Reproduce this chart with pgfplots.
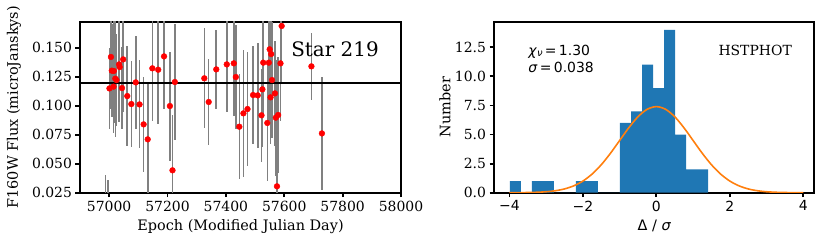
\documentclass[border=0pt]{standalone}
\usepackage{pgfplots}
\pgfplotsset{compat=1.18}
\usepackage{pgfplotstable}
\usepackage{fontspec}
\setmainfont{DejaVu Serif}
\newfontfamily\sansf{DejaVu Sans}
\definecolor{tabblue}{RGB}{31,119,180}
\definecolor{taborange}{RGB}{255,127,14}
\pgfplotstableread{
x y e
56988 0.000 0.040
56995 0.000 0.036
57001 0.1149 0.035
57006 0.1420 0.045
57009 0.1302 0.040
57015 0.1164 0.040
57016 0.1299 0.045
57021 0.1233 0.050
57025 0.1221 0.040
57034 0.1356 0.050
57036 0.1333 0.045
57044 0.1152 0.035
57048 0.1399 0.045
57062 0.1083 0.043
57076 0.1014 0.037
57091 0.1201 0.040
57104 0.1011 0.038
57118 0.0839 0.041
57132 0.0710 0.049
57148 0.1322 0.045
57168 0.1310 0.047
57188 0.1425 0.045
57208 0.0997 0.047
57217 0.0443 0.048
57225 0.1204 0.050
57326 0.1236 0.043
57341 0.1032 0.037
57367 0.1313 0.034
57403 0.1356 0.041
57427 0.1365 0.045
57434 0.1247 0.045
57446 0.0819 0.045
57460 0.0934 0.055
57474 0.0971 0.049
57493 0.1092 0.042
57509 0.1089 0.045
57522 0.0917 0.040
57525 0.1141 0.050
57528 0.1371 0.045
57542 0.0851 0.050
57547 0.1371 0.050
57550 0.1486 0.050
57553 0.1072 0.040
57555 0.1445 0.050
57558 0.1221 0.050
57568 0.1106 0.045
57571 0.0897 0.050
57575 0.0305 0.040
57579 0.0920 0.050
57587 0.1365 0.050
57591 0.1687 0.050
57693 0.1339 0.029
57729 0.0761 0.049
}\fluxdata
\pgfplotstableread{
x n
-3.99 1
-3.69 0
-3.39 1
-3.09 1
-2.79 0
-2.49 0
-2.19 1
-1.89 1
-1.59 0
-1.29 0
-0.99 6
-0.69 7
-0.39 11
-0.09 9
0.21 14
0.51 5
0.81 2
1.11 2
1.41 2
}\histdata
\pgfplotstableread{
x g
-4.00 0.0025
-3.75 0.0066
-3.50 0.016
-3.25 0.038
-3.00 0.082
-2.75 0.169
-2.50 0.325
-2.25 0.589
-2.00 1.001
-1.75 1.601
-1.50 2.403
-1.25 3.388
-1.00 4.488
-0.75 5.586
-0.50 6.531
-0.25 7.172
0.00 7.400
0.25 7.172
0.50 6.531
0.75 5.586
1.00 4.488
1.25 3.388
1.50 2.403
1.75 1.601
2.00 1.001
2.25 0.589
2.50 0.325
2.75 0.169
3.00 0.082
3.25 0.038
3.50 0.016
3.75 0.0066
4.00 0.0025
}\gaussdata
\pgfplotsset{
  mystyle/.style={
    scale only axis,
    height=171bp,
    axis line style={line width=2.2bp},
    tick align=outside,
    tick pos=left,
    major tick length=4.5bp,
    every tick/.style={line width=1.8bp, black},
    scaled x ticks=false,
    scaled y ticks=false,
    /pgf/number format/assume math mode=true,
    tick label style={font=\fontsize{14}{16}\selectfont},
    label style={font=\fontsize{14.5}{17}\selectfont},
  }
}
\begin{document}
\begin{tikzpicture}
\begin{axis}[mystyle,
  at={(0,0)}, anchor=south west,
  width=321bp,
  xmin=56900, xmax=58000,
  ymin=0.025, ymax=0.1724,
  xtick={57000,57200,57400,57600,57800,58000},
  xticklabels={57000,57200,57400,57600,57800,58000},
  ytick={0.025,0.05,0.075,0.1,0.125,0.15},
  yticklabels={0.025,0.050,0.075,0.100,0.125,0.150},
  xlabel={Epoch (Modified Julian Day)},
  ylabel={F160W Flux (microJanskys)},
  xlabel style={at={(axis description cs:0.5,-0.196)}, anchor=center},
  ylabel style={at={(axis description cs:-0.2056,0.5)}, anchor=center},
]
\addplot[draw=none, mark=none, error bars/.cd, y dir=both, y explicit,
  error mark=none, error bar style={color=gray, line width=1.6bp}]
  table[x=x, y=y, y error=e]{\fluxdata};
\addplot[draw=black, line width=1.6bp, mark=none] coordinates {(56900,0.1198) (58000,0.1198)};
\addplot[only marks, mark=*, mark size=2.9bp, color=red, mark options={draw=red, fill=red}]
  table[x=x, y=y]{\fluxdata};
\node[anchor=west, font=\fontsize{20}{24}\selectfont] at (axis cs:57612,0.1488) {Star 219};
\end{axis}
\begin{axis}[mystyle,
  at={(414bp,0)}, anchor=south west,
  width=320.3bp,
  xmin=-4.42, xmax=4.30,
  ymin=0, ymax=14.7,
  xtick={-4,-2,0,2,4},
  xticklabels={−4,−2,0,2,4},
  xticklabel style={font=\sansf\fontsize{14}{16}\selectfont},
  ytick={0,2.5,5,7.5,10,12.5},
  yticklabels={0.0,2.5,5.0,7.5,10.0,12.5},
  xlabel={{\sansf Δ / \itshape σ}},
  ylabel={Number},
  xlabel style={at={(axis description cs:0.5,-0.196)}, anchor=center},
  ylabel style={at={(axis description cs:-0.153,0.5)}, anchor=center},
]
\addplot[ybar interval, fill=tabblue, draw=none] table[x=x, y=n]{\histdata};
\addplot[taborange, line width=1.6bp, smooth, mark=none] table[x=x, y=g]{\gaussdata};
\node[anchor=west, font=\sansf\fontsize{14}{16}\selectfont] at (axis cs:-3.58,12.15) {\textit{χ}\raisebox{-0.25ex}{\fontsize{10}{11}\selectfont\textit{ν}}\,=\,1.30};
\node[anchor=west, font=\sansf\fontsize{14}{16}\selectfont] at (axis cs:-3.58,10.75) {\textit{σ}\,=\,0.038};
\node[anchor=center, font=\fontsize{14}{16}\selectfont] at (axis cs:2.69,12.2) {HSTPHOT};
\end{axis}
\pgfresetboundingbox
\useasboundingbox (-80bp,-56.3bp) rectangle (750bp,192.7bp);
\end{tikzpicture}
\end{document}
